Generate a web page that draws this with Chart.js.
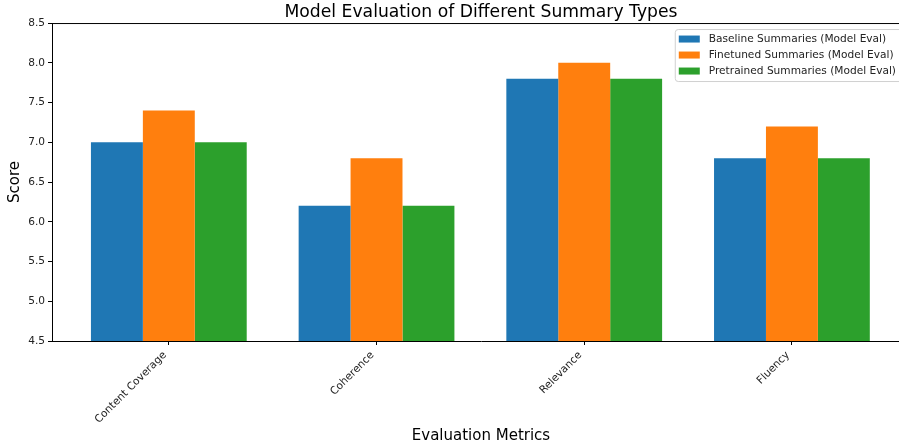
<!DOCTYPE html>
<html>
<head>
<meta charset="utf-8">
<script src="https://cdn.jsdelivr.net/npm/chart.js@4.4.1/dist/chart.umd.min.js"></script>
<style>
  html, body { margin: 0; padding: 0; background: #fff; overflow: hidden; }
  canvas { display: block; }
</style>
</head>
<body>
<canvas id="chart" width="962" height="446" style="width:962px;height:446px"></canvas>
<script>
// ── data ──────────────────────────────────────────
const categories = ['Content Coverage', 'Coherence', 'Relevance', 'Fluency'];
const baseline   = [7.0, 6.2, 7.8, 6.8];
const finetuned  = [7.4, 6.8, 8.0, 7.2];
const pretrained = [7.0, 6.2, 7.8, 6.8];
const seriesNames = [
  'Baseline Summaries (Model Eval)',
  'Finetuned Summaries (Model Eval)',
  'Pretrained Summaries (Model Eval)',
];
const seriesColors = ['#1f77b4', '#ff7f0e', '#2ca02c'];
const yTicks = [4.5, 5.0, 5.5, 6.0, 6.5, 7.0, 7.5, 8.0, 8.5];

const FONT = "'DejaVu Sans', sans-serif";

// matplotlib-ish frame (top + right spines)
const framePlugin = {
  id: 'frame',
  afterDraw(chart) {
    const { ctx, chartArea: a } = chart;
    ctx.save();
    ctx.strokeStyle = '#000';
    ctx.lineWidth = 1;
    ctx.beginPath();
    ctx.moveTo(a.left, a.top + 0.5);
    ctx.lineTo(a.right, a.top + 0.5);
    ctx.lineTo(a.right, a.bottom);
    ctx.stroke();
    ctx.restore();
  },
};

// legend box in the upper right of the plot
const boxLegend = {
  id: 'boxLegend',
  afterDraw(chart) {
    const { ctx, chartArea: a } = chart;
    const sets = chart.data.datasets;
    ctx.save();
    ctx.font = '10.6px ' + FONT;
    const textW = Math.max(...sets.map((d) => ctx.measureText(d.label).width));
    const w = 4 + 21 + 9 + textW + 6;
    const h = 52;
    const x = a.right - 8 - w;
    const y = a.top + 6;
    ctx.beginPath();
    ctx.roundRect(x + 0.5, y + 0.5, w, h, 3);
    ctx.fillStyle = 'rgba(255,255,255,0.8)';
    ctx.fill();
    ctx.strokeStyle = '#d0d0d0';
    ctx.lineWidth = 1;
    ctx.stroke();
    ctx.textBaseline = 'middle';
    sets.forEach((d, i) => {
      const cy = y + 10 + i * 16;
      ctx.fillStyle = d.backgroundColor;
      ctx.fillRect(x + 4, cy - 3.5, 21, 7);
      ctx.fillStyle = '#222';
      ctx.fillText(d.label, x + 34, cy + 0.5);
    });
    ctx.restore();
  },
};

const datasets = [baseline, finetuned, pretrained].map((vals, s) => ({
  label: seriesNames[s],
  data: vals.map((v, i) => ({ x: i, y: v })),
  backgroundColor: seriesColors[s],
  borderWidth: 0,
  categoryPercentage: 0.75,
  barPercentage: 1.0,
}));

new Chart(document.getElementById('chart'), {
  type: 'bar',
  data: { datasets },
  plugins: [framePlugin, boxLegend],
  options: {
    responsive: false,
    animation: false,
    devicePixelRatio: 1,
    layout: { padding: 0 },
    plugins: {
      legend: { display: false },
      tooltip: { enabled: false },
      title: {
        display: true,
        text: 'Model Evaluation of Different Summary Types',
        color: '#000',
        font: { family: FONT, size: 17.2, weight: 'normal' },
        padding: { top: 2, bottom: 0.4 },
      },
    },
    scales: {
      x: {
        type: 'linear',
        min: -0.5625,
        max: 3.5685,
        offset: false,
        afterBuildTicks: (s) => { s.ticks = categories.map((_, i) => ({ value: i })); },
        afterFit: (s) => { s.height = 105; },
        ticks: {
          autoSkip: false,
          minRotation: 45,
          maxRotation: 45,
          padding: 4,
          labelOffset: -4,
          color: '#222',
          font: { family: FONT, size: 10.6 },
          callback: (v) => categories[v],
        },
        grid: {
          display: true,
          drawOnChartArea: false,
          drawTicks: true,
          offset: false,
          tickLength: 4,
          tickWidth: 1,
          color: '#000',
          tickColor: '#000',
        },
        border: { color: '#000', width: 1 },
        title: {
          display: true,
          text: 'Evaluation Metrics',
          color: '#000',
          font: { family: FONT, size: 15 },
          padding: { top: 0, bottom: 1 },
        },
      },
      y: {
        min: 4.5,
        max: 8.5,
        afterBuildTicks: (s) => { s.ticks = yTicks.map((v) => ({ value: v })); },
        afterFit: (s) => { s.width = 52; },
        ticks: {
          padding: 3,
          color: '#222',
          font: { family: FONT, size: 10.6 },
          callback: (v) => Number(v).toFixed(1),
        },
        grid: { drawOnChartArea: false, tickLength: 4, color: '#000' },
        border: { color: '#000', width: 1 },
        title: {
          display: true,
          text: 'Score',
          color: '#000',
          font: { family: FONT, size: 15 },
          padding: { top: 6, bottom: 0 },
        },
      },
      // empty right-hand box so the plot is centred under the title
      yRight: {
        type: 'linear',
        position: 'right',
        display: true,
        afterFit: (s) => { s.width = 52; },
        ticks: { display: false },
        grid: { display: false, drawTicks: false },
        border: { display: false },
      },
    },
  },
});
</script>
</body>
</html>
